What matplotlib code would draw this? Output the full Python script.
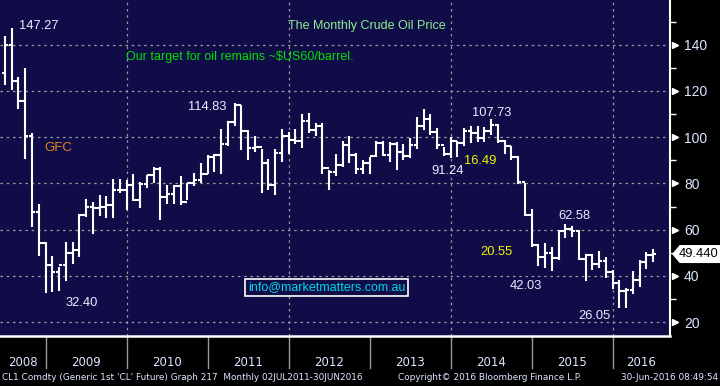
import matplotlib.pyplot as plt
import matplotlib.transforms as mtransforms
from matplotlib.patches import Polygon

# Monthly CL1 bars, Jun 2008 .. Jun 2016 (month index 5 = Jun 2008, 0 = Jan 2008)
FIRST_MONTH = 5

opens = [
    127.8, 140.0, 124.1, 115.5, 100.6, 67.8, 54.4,
    44.6, 41.7, 44.8, 49.7, 51.1, 66.3, 69.9, 69.5, 70.0, 70.6, 77.0, 77.3,
    79.4, 72.9, 79.7, 83.8, 86.2, 74.0, 75.6, 79.0, 71.9, 80.0, 81.4, 84.1,
    91.4, 92.2, 97.0, 106.7, 113.9, 102.7, 95.4, 95.7, 88.8, 79.2, 93.2, 100.4,
    98.8, 98.5, 107.1, 103.0, 104.9, 86.5, 85.0, 88.1, 96.5, 92.2, 86.2, 88.9,
    91.8, 97.5, 92.1, 97.2, 93.5, 92.0, 96.6, 105.0, 107.7, 102.3, 96.4, 92.7,
    98.4, 97.5, 102.6, 101.6, 99.7, 102.7, 105.4, 98.2, 96.0, 91.2, 80.5, 66.2,
    53.3, 48.2, 49.8, 47.6, 59.6, 60.3, 59.5, 47.1, 49.2, 45.1, 46.6, 41.7,
    37.0, 33.6, 33.8, 38.3, 45.9, 49.1,
]
highs = [
    143.7, 147.27, 126.0, 130.0, 102.0, 71.2, 54.8,
    48.6, 43.8, 54.7, 54.6, 66.6, 73.4, 72.0, 75.0, 74.4, 82.0, 82.0, 81.4,
    84.0, 80.5, 83.8, 87.2, 87.0, 79.4, 79.1, 83.0, 80.0, 84.4, 88.6, 92.1,
    92.6, 103.4, 107.0, 114.83, 114.0, 103.0, 100.6, 95.0, 90.5, 95.0, 103.4, 102.4,
    103.7, 109.8, 110.6, 106.0, 106.0, 86.0, 92.9, 98.3, 100.4, 93.0, 90.0, 91.4,
    98.2, 98.2, 97.8, 97.8, 97.0, 99.6, 108.9, 112.2, 110.2, 104.0, 95.7, 100.0,
    98.5, 104.0, 105.0, 104.9, 104.5, 107.73, 105.8, 98.7, 96.0, 92.0, 80.0, 69.0,
    53.6, 54.2, 52.5, 59.9, 62.58, 61.6, 59.8, 49.3, 49.3, 50.9, 48.2, 42.6,
    38.4, 34.7, 41.9, 46.8, 50.2, 51.7,
]
lows = [
    122.5, 120.4, 112.2, 90.5, 61.3, 48.4, 32.40,
    33.2, 33.6, 38.0, 45.0, 48.3, 65.4, 58.3, 66.0, 65.1, 65.1, 76.0, 68.6,
    72.4, 69.5, 78.0, 80.0, 64.2, 71.0, 71.0, 70.8, 72.6, 79.0, 80.2, 84.0,
    85.1, 84.1, 96.0, 105.0, 94.6, 90.0, 93.4, 75.7, 77.1, 75.0, 89.2, 92.5,
    97.0, 95.4, 102.0, 100.7, 84.0, 77.3, 83.0, 87.0, 89.0, 84.0, 84.1, 84.0,
    91.2, 92.0, 89.3, 85.6, 90.0, 91.0, 95.0, 103.0, 101.0, 95.0, 91.8, 91.0,
    91.24, 96.0, 97.5, 98.0, 98.0, 101.0, 97.5, 92.5, 90.0, 79.8, 65.7, 52.4,
    44.2, 43.6, 42.03, 47.0, 56.5, 57.0, 46.7, 37.8, 42.6, 43.2, 39.0, 34.5,
    26.2, 26.05, 32.1, 35.2, 43.0, 45.8,
]
closes = [
    140.0, 124.1, 115.5, 100.6, 67.8, 54.4, 44.6,
    41.7, 44.8, 49.7, 51.1, 66.3, 69.9, 69.5, 70.0, 70.6, 77.0, 77.3, 79.4,
    72.9, 79.7, 83.8, 86.2, 74.0, 75.6, 79.0, 71.9, 80.0, 81.4, 84.1, 91.4,
    92.2, 97.0, 106.7, 113.9, 102.7, 95.4, 95.7, 88.8, 79.2, 93.2, 100.4, 98.8,
    98.5, 107.1, 103.0, 104.9, 86.5, 85.0, 88.1, 96.5, 92.2, 86.2, 88.9, 91.8,
    97.5, 92.1, 97.2, 93.5, 92.0, 96.6, 105.0, 107.7, 102.3, 96.4, 92.7, 98.4,
    97.5, 102.6, 101.6, 99.7, 102.7, 105.4, 98.2, 96.0, 91.2, 80.5, 66.2, 53.3,
    48.2, 49.8, 47.6, 59.6, 60.3, 59.5, 47.1, 49.2, 45.1, 46.6, 41.7, 37.0,
    33.6, 33.8, 38.3, 45.9, 49.1, 49.44,
]

years = ["2008", "2009", "2010", "2011", "2012", "2013", "2014", "2015", "2016"]
y_ticks = [20, 40, 60, 80, 100, 120, 140]
last_price = "49.440"

# annotations: (text, month index, price, colour)
labels = [
    ("147.27", 7.1, 148.0, "w"),
    ("114.83", 32.1, 112.9, "w"),
    ("107.73", 74.2, 110.3, "w"),
    ("91.24", 68.1, 85.4, "w"),
    ("16.49", 73.0, 89.7, "y"),
    ("62.58", 86.9, 65.7, "w"),
    ("20.55", 75.4, 50.3, "y"),
    ("42.03", 79.8, 35.8, "w"),
    ("26.05", 89.9, 22.8, "w"),
    ("32.40", 14.0, 28.1, "w"),
]

BG = "#000000"
PANEL = "#100c48"
WHITE = "#e8eeff"
YELLOW = "#f2f200"
GRID = "#9a9a9a"
AXTXT = "#dce6ff"

fig = plt.figure(figsize=(7.2, 3.86), dpi=100)
fig.patch.set_facecolor(BG)
ax = fig.add_axes([0, 50 / 386, 670 / 720, 336 / 386])
ax.set_facecolor(PANEL)

x = list(range(FIRST_MONTH, FIRST_MONTH + len(closes)))
tw = 0.48
ax.vlines(x, lows, highs, color="white", lw=1.5, zorder=3)
ax.hlines(opens, [i - tw for i in x], x, color="white", lw=1.5, zorder=3)
ax.hlines(closes, x, [i + tw for i in x], color="white", lw=1.5, zorder=3)

ax.set_xlim(4.26, 103.5)
ax.set_ylim(14.0, 159.3)

# grid
for v in y_ticks:
    ax.axhline(v, color=GRID, lw=0.9, ls=(0, (2, 3)), zorder=1)
seps = [11 + 12 * k for k in range(len(years) - 1)]
for s in seps[1::2]:
    ax.axvline(s, color=GRID, lw=0.9, ls=(0, (2, 3)), zorder=1)

# spines
for side in ("top", "left"):
    ax.spines[side].set_visible(False)
ax.spines["right"].set_color("white")
ax.spines["right"].set_linewidth(1.5)
ax.spines["bottom"].set_color("white")
ax.spines["bottom"].set_linewidth(1.8)

# y axis on right
ax.yaxis.tick_right()
ax.set_yticks(y_ticks)
ax.set_yticks(range(30, 160, 20), minor=True)
ax.tick_params(axis="y", which="major", length=0, pad=10, labelsize=10,
               labelcolor=AXTXT)
ax.tick_params(axis="y", which="minor", length=4, width=1, color="white",
               direction="out")
for lab in ax.get_yticklabels():
    lab.set_fontfamily("Liberation Sans")
tri = mtransforms.blended_transform_factory(ax.transAxes, ax.transData)
ax.plot([1.007] * len(y_ticks), y_ticks, ls="none", marker=">", ms=5,
        color="white", transform=tri, clip_on=False, zorder=5)

# x axis: year separators and labels
ax.set_xticks([])
xb = mtransforms.blended_transform_factory(ax.transData, ax.transAxes)
for s in seps:
    ax.plot([s, s], [0, -0.095], color=GRID, lw=1, transform=xb, clip_on=False)
bounds = [4.26] + seps + [103.5]
for i, yr in enumerate(years):
    ax.text((bounds[i] + bounds[i + 1]) / 2, -0.078, yr, transform=xb,
            ha="center", va="center", color=AXTXT, fontsize=8.5,
            family="DejaVu Sans")

# texts
ax.text(46.9, 148.0, "The Monthly Crude Oil Price", color="#90ee90",
        fontsize=9, family="Liberation Sans", va="center")
ax.text(22.9, 134.5, "Our target for oil remains ~$US60/barrel.", color="#00e000",
        fontsize=9, family="Liberation Sans", va="center")
ax.text(10.9, 95.1, "GFC", color="#e8801a", fontsize=9.5,
        family="Liberation Sans", va="center")
for txt, mx, py, c in labels:
    ax.text(mx, py, txt, color=WHITE if c == "w" else YELLOW, fontsize=9.3,
            family="Liberation Sans", va="center", zorder=6)
ax.text(41.0, 35.0, "info@marketmatters.com.au", color="#00d8e8", fontsize=9,
        family="Liberation Sans", va="center", zorder=6,
        bbox=dict(boxstyle="square,pad=0.22", fc=PANEL, ec="white", lw=1.2))

# last price tag
tag = mtransforms.blended_transform_factory(fig.transFigure, ax.transData)
p = closes[-1]
ax.add_patch(Polygon(
    [(673 / 720, p), (680 / 720, p + 3.6), (1.0, p + 3.6),
     (1.0, p - 3.6), (680 / 720, p - 3.6)],
    closed=True, fc="white", ec="white", transform=tag, clip_on=False,
    zorder=7))
ax.text(699 / 720, p, last_price, transform=tag, ha="center", va="center",
        color="black", fontsize=9.3, family="Liberation Sans", zorder=8)

# footer
foot = dict(color=AXTXT, fontsize=6.4, family="DejaVu Sans", va="center")
fig.text(2 / 720, 1 - 378 / 386, "CL1 Comdty (Generic 1st 'CL' Future) Graph 217  "
         "Monthly 02JUL2011-30JUN2016", **foot)
fig.text(398 / 720, 1 - 378 / 386, "Copyright\u00a9 2016 Bloomberg Finance L.P.", **foot)
fig.text(718 / 720, 1 - 378 / 386, "30-Jun-2016 08:49:54", ha="right", **foot)

fig.savefig("out.png", facecolor=BG)
